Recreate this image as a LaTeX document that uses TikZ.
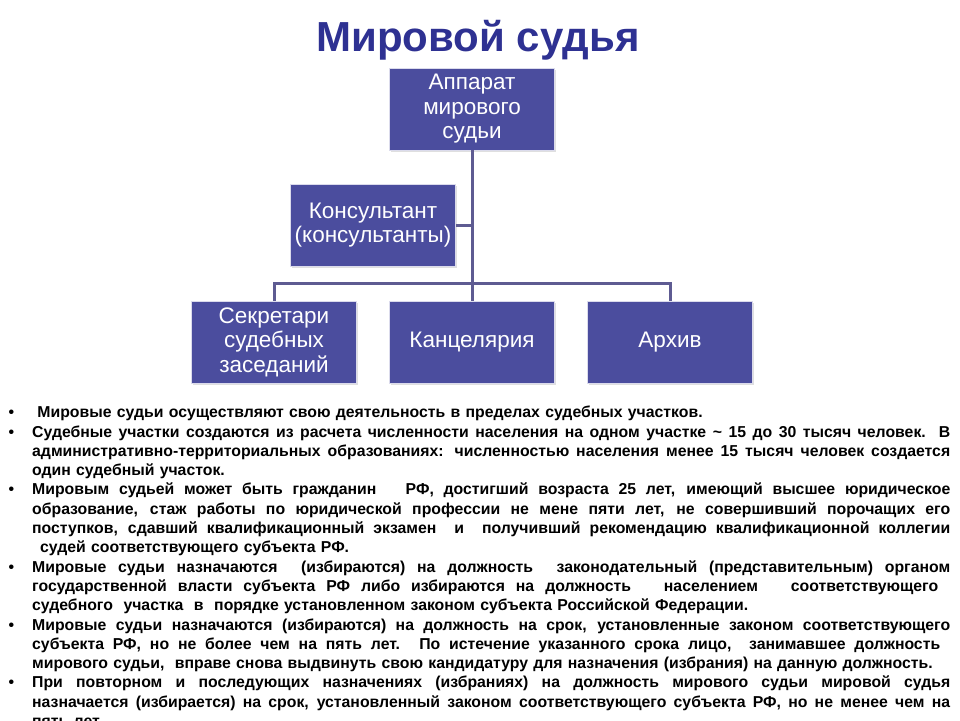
\documentclass[tikz,border=0pt]{standalone}
\usepackage{fontspec}
\setmainfont{Liberation Sans}
\usetikzlibrary{positioning, shadows}
\definecolor{titleblue}{HTML}{2E3192}
\definecolor{boxblue}{HTML}{4B4D9E}
\definecolor{linkblue}{HTML}{5E5B92}
\newlength\notewidth
\setlength{\notewidth}{918pt}
% one justified line of the notes (spaces stretched to the full width)
\newcommand{\fullline}[2][\notewidth]{{\spaceskip=0pt\xspaceskip=0pt\makebox[#1][s]{#2}}}
\newcommand{\notebullet}{\llap{\textbullet\hspace{18pt}}}

\begin{document}
\begin{tikzpicture}[
      x=1pt, y=-1pt,
      orgbox/.style={fill=boxblue, draw=white!80!boxblue, line width=0.8pt, text=white,
        minimum width=165pt, minimum height=82pt, align=center, inner sep=2pt,
        font=\fontsize{22.5}{24.5}\selectfont,
        drop shadow={shadow xshift=1.5pt, shadow yshift=-2pt, fill=black!25}},
      link/.style={draw=linkblue, line width=3pt},
    ]
    \useasboundingbox (0,0) rectangle (960,720);
    \clip (0,0) rectangle (960,720);

    \node[font=\fontsize{42}{48}\selectfont\bfseries, text=titleblue] (title) at (478,40) {Мировой судья};

    \coordinate (bus) at (472,283);

    \node[orgbox] (app) at (472,109) {Аппарат\\мирового\\судьи};
    \node[orgbox] (kons) at (373,225) {Консультант\\(консультанты)};
    \node[orgbox] (sekr) at (274,342) {Секретари\\судебных\\заседаний};
    \node[orgbox] (kanc) at (472,342) {Канцелярия};
    \node[orgbox] (arch) at (670,342) {Архив};

    \draw[link] (app.south) -- (kanc.north);
    \draw[link] (kons.east) -- (kons.east -| app.south);
    \draw[link] (sekr.north) |- (bus) -| (arch.north);

    \node[anchor=north west, inner sep=0, text width=\notewidth, align=left,
          font=\fontsize{15.8}{19.3}\selectfont\bfseries] (notes) at (32,406) {%
      \notebullet\ Мировые судьи осуществляют свою деятельность в пределах судебных участков.\\
      \fullline{\notebullet Судебные участки создаются из расчета численности населения на одном участке \string~ 15 до 30 тысяч человек.\ \ В}\\
      \fullline{административно-территориальных образованиях: численностью населения менее 15 тысяч человек создается}\\
      один судебный участок.\\
      \fullline{\notebullet Мировым судьей может быть гражданин\ \ \ РФ, достигший возраста 25 лет, имеющий высшее юридическое}\\
      \fullline{образование, стаж работы по юридической профессии не мене пяти лет, не совершивший порочащих его}\\
      \fullline{поступков, сдавший квалификационный экзамен\ \ и\ \ получивший рекомендацию квалификационной коллегии}\\
      \hspace*{8pt}судей соответствующего субъекта РФ.\\
      \fullline{\notebullet Мировые судьи назначаются\ \ (избираются) на должность\ \ законодательный (представительным) органом}\\
      \fullline[906pt]{государственной власти субъекта РФ либо избираются на должность\ \ \ населением\ \ \ соответствующего}\\
      судебного\ \ участка\ \ в\ \ порядке установленном законом субъекта Российской Федерации.\\
      \fullline{\notebullet Мировые судьи назначаются (избираются) на должность на срок, установленные законом соответствующего}\\
      \fullline[908pt]{субъекта РФ, но не более чем на пять лет. По истечение указанного срока лицо,\ \ занимавшее должность}\\
      мирового судьи,\ \ вправе снова выдвинуть свою кандидатуру для назначения (избрания) на данную должность.\\
      \fullline{\notebullet При повторном и последующих назначениях (избраниях) на должность мирового судьи мировой судья}\\
      \fullline{назначается (избирается) на срок, установленный законом соответствующего субъекта РФ, но не менее чем на}\\
      пять лет.};
  \end{tikzpicture}
\end{document}
